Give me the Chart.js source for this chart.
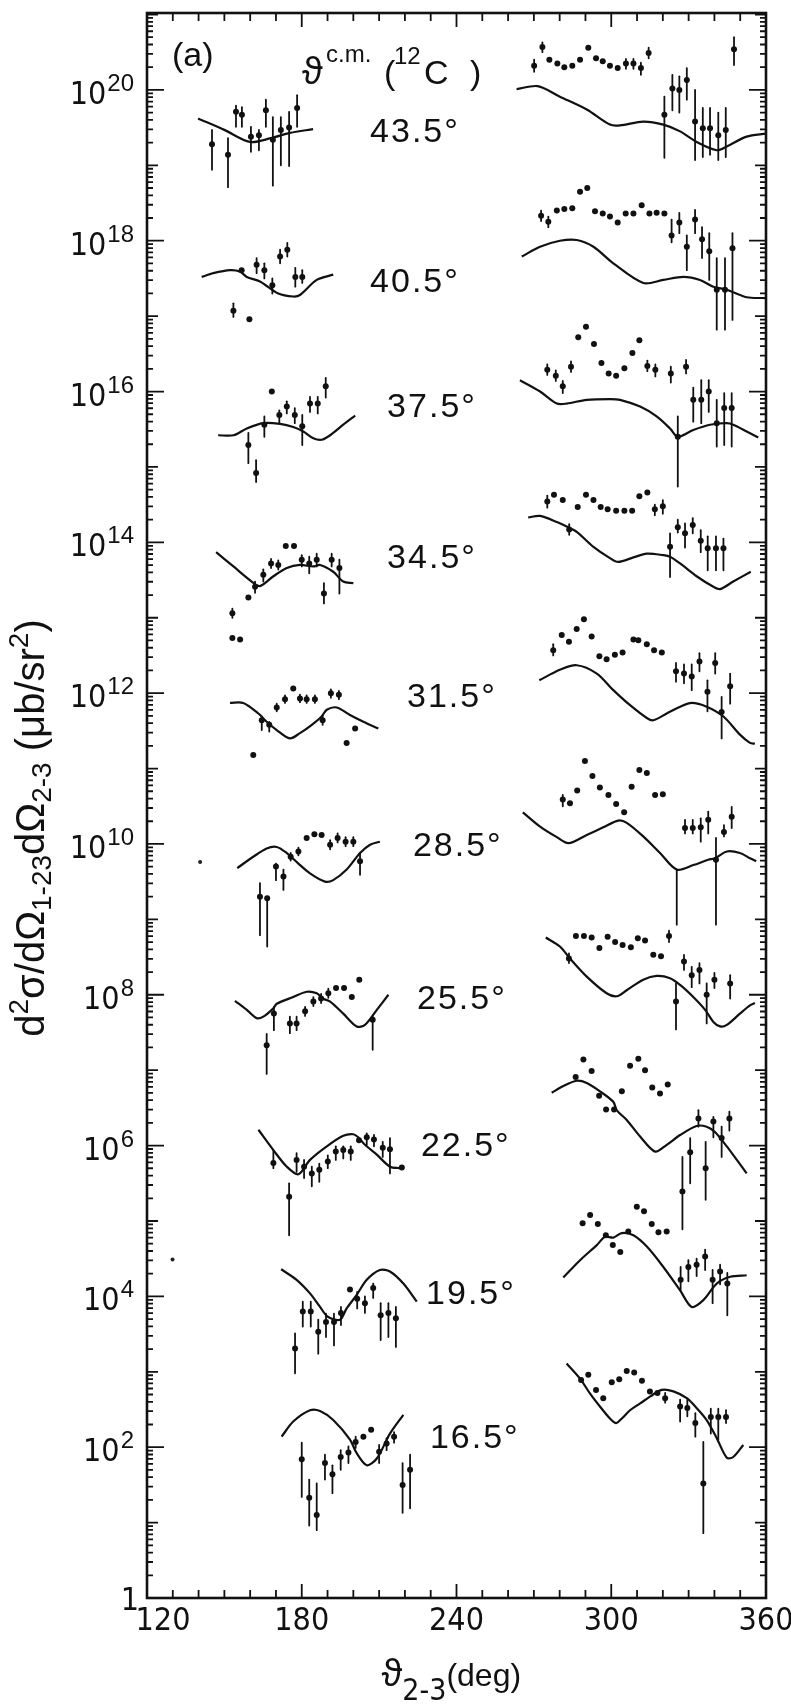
<!DOCTYPE html>
<html>
<head>
	<title>12C angular correlations</title>
	<script src="https://cdn.jsdelivr.net/npm/chart.js@4.4.0/dist/chart.umd.min.js"></script>
	<style>
		body { margin: 0; background: #fff; }
		#wrap { width: 791px; height: 1707px; }
		canvas { background: #fff; }
	</style>
</head>
<body>
	<div id="wrap"><canvas id="chart1" width="791" height="1707"></canvas></div>
	<script type="text/javascript">
		// values are log10 of d2sigma (ub/sr2); x is theta 2-3 in degrees
		// data points: [x, y] or [x, y, errTop, errBottom]
		var th435L = [[139.8,19.62],[150,19.47],[159.9,19.31],[168,19.36],[175.4,19.43],[184.4,19.48]];
		var d435L = [[145.2,19.28,19.47,18.94],[151.4,19.14,19.36,18.71],[154.5,19.71,19.79,19.51],[156.8,19.67,19.77,19.51],[160.3,19.38,19.51,19.18],[163.4,19.40,19.47,19.20],[166.1,19.73,19.87,19.51],[168.8,19.34,19.64,18.73],[171.9,19.47,19.64,19.0],[175.1,19.50,19.71,18.99],[178.2,19.76,19.93,19.51]];
		var th435R = [[263.3,20.01],[271.5,20.05],[280.1,19.91],[290.5,19.74],[299.5,19.54],[303.4,19.53],[312.4,19.58],[320.2,19.54],[326.7,19.45],[333.1,19.31],[340.9,19.20],[344.8,19.25],[352.5,19.38],[360,19.42]];
		var d435R = [[270.1,20.32,20.4,20.24],[273.3,20.57,20.63,20.5],[276.0,20.40],[279.1,20.35],[281.8,20.30],[284.9,20.32],[287.9,20.40],[291.1,20.56],[294.1,20.42],[296.7,20.38],[299.5,20.32],[302.5,20.29],[305.7,20.35,20.41,20.28],[308.6,20.35,20.41,20.28],[311.5,20.29,20.36,20.2],[314.5,20.49,20.56,20.42],[320.6,19.67,19.91,19.10],[323.7,20.02,20.20,19.73],[326.4,20.0,20.18,19.70],[329.3,20.13,20.29,19.87],[332.5,19.58,20.0,19.07],[335.5,19.49,19.76,19.11],[338.3,19.49,19.76,19.14],[341.5,19.40,19.70,19.07],[344.4,19.47,19.76,19.11],[347.6,20.54,20.70,20.33]];

		var th405L = [[141.2,17.52],[145.7,17.57],[152.2,17.61],[156.1,17.59],[158.7,17.52],[163.8,17.46],[170.9,17.30],[176.7,17.26],[179.3,17.28],[185.8,17.48],[192.2,17.55]];
		var d405L = [[153.5,17.07,17.17,16.99],[156.7,17.61],[159.7,16.96],[162.5,17.68,17.77,17.57],[165.5,17.61,17.70,17.50],[168.6,17.41,17.50,17.30],[171.6,17.79,17.88,17.70],[174.4,17.88,17.97,17.79],[177.5,17.52,17.64,17.39],[180.2,17.52,17.61,17.44]];
		var th405R = [[265.3,17.79],[272.4,17.92],[280.1,18.0],[286.6,18.01],[293.1,17.92],[300.8,17.70],[312.4,17.44],[320.2,17.48],[328.0,17.52],[334.4,17.48],[339.6,17.39],[344.8,17.35],[352.5,17.25],[360,17.24]];
		var d405R = [[272.8,18.33,18.4,18.26],[275.6,18.25,18.32,18.18],[278.9,18.40],[281.8,18.42],[284.9,18.43],[287.9,18.65],[290.7,18.70],[293.7,18.39],[296.7,18.36],[299.5,18.32],[302.5,18.24],[305.6,18.36],[308.6,18.36],[311.8,18.47],[314.8,18.36],[317.6,18.37],[320.6,18.36],[323.4,18.07,18.28,17.98],[326.4,18.24,18.37,18.10],[329.3,17.92,18.07,17.61],[332.5,18.28,18.41,18.10],[335.2,18.02,18.18,17.77],[338.0,17.86,18.10,17.48],[340.9,17.35,17.77,16.82],[344.1,17.35,17.77,16.82],[347.0,17.90,18.10,16.95]];

		var th375L = [[147.6,15.42],[153.5,15.42],[158.7,15.51],[165.1,15.58],[171.6,15.57],[176.7,15.53],[180.6,15.47],[184.5,15.38],[187.7,15.36],[191.0,15.42],[196.1,15.56],[200.7,15.68]];
		var d375L = [[159.3,15.29,15.45,15.05],[162.3,14.92,15.09,14.80],[165.5,15.56,15.67,15.40],[168.4,16.0],[171.3,15.69,15.75,15.58],[174.2,15.80,15.87,15.71],[177.3,15.69,15.78,15.58],[180.2,15.54,15.69,15.29],[183.2,15.84,15.93,15.73],[186.2,15.84,15.93,15.71],[189.3,16.07,16.18,15.92]];
		var th375R = [[264.6,16.15],[272.4,16.0],[278.9,15.84],[282.7,15.84],[290.5,15.89],[299.5,15.90],[303.4,15.89],[311.2,15.80],[317.6,15.67],[322.8,15.51],[325.8,15.40],[331.8,15.49],[338.3,15.56],[344.8,15.58],[347.3,15.56],[352.5,15.47],[357.0,15.39]];
		var d375R = [[275.2,16.29,16.36,16.22],[278.5,16.21,16.28,16.14],[281.2,16.07,16.14,15.98],[284.4,16.33,16.4,16.26],[287.2,16.72],[290.2,16.86],[293.3,16.63],[296.2,16.38],[299.0,16.24],[301.9,16.21],[305.1,16.31],[308.2,16.51],[310.9,16.68],[314.0,16.34,16.41,16.27],[317.1,16.29,16.36,16.2],[323.1,16.24,16.33,16.12],[325.8,15.40,15.67,14.74],[329.0,16.33,16.42,16.24],[331.8,15.89,16.05,15.60],[334.9,15.89,16.15,15.58],[337.8,16.0,16.15,15.73],[340.9,15.58,15.89,15.27],[343.8,15.78,15.98,15.29],[346.7,15.78,15.98,15.27]];

		var th345L = [[146.8,13.87],[153.5,13.68],[160.6,13.48],[163.8,13.42],[169.0,13.55],[174.2,13.66],[179.3,13.70],[184.5,13.68],[187.1,13.70],[192.2,13.61],[196.1,13.48],[200.0,13.46]];
		var d345L = [[153.1,13.06,13.12,13.0],[156.1,12.71],[153.1,12.73],[159.3,13.27],[161.9,13.41,13.48,13.33],[165.1,13.57,13.64,13.48],[168.1,13.72,13.78,13.66],[170.9,13.70,13.76,13.64],[173.8,13.95],[177.0,13.95],[180.0,13.77,13.83,13.68],[182.9,13.72,13.81,13.59],[185.8,13.77,13.85,13.68],[188.6,13.32,13.46,13.19],[191.6,13.77,13.85,13.68],[194.6,13.66,13.77,13.32]];
		var th345R = [[267.8,14.33],[272.4,14.35],[278.9,14.27],[282.7,14.21],[286.6,14.14],[293.1,13.94],[299.5,13.79],[302.7,13.74],[308.6,13.80],[313.8,13.85],[320.2,13.83],[322.8,13.81],[326.7,13.72],[333.1,13.55],[339.6,13.41],[342.2,13.38],[347.3,13.48],[354.1,13.61]];
		var d345R = [[275.2,14.54,14.62,14.46],[277.8,14.63],[281.2,14.56],[283.7,14.17,14.24,14.1],[287.0,14.47],[290.2,14.63],[293.1,14.56],[295.9,14.47],[298.6,14.44],[301.9,14.42],[305.1,14.42],[308.1,14.42],[310.9,14.61],[314.0,14.66],[316.9,14.44,14.5,14.36],[320.0,14.48,14.56,14.38],[322.8,13.94,14.12,13.54],[325.8,14.20,14.30,14.13],[328.6,14.12,14.25,13.93],[331.6,14.23,14.32,14.12],[334.7,14.02,14.16,13.87],[337.4,13.92,14.08,13.63],[340.6,13.92,14.08,13.63],[343.5,13.92,14.05,13.63]];

		var th315L = [[152.2,11.87],[157.3,11.87],[163.2,11.73],[166.4,11.62],[170.3,11.51],[175.4,11.40],[179.3,11.47],[183.9,11.58],[187.7,11.69],[189.7,11.78],[193.6,11.81],[198.7,11.71],[203.9,11.62],[209.7,11.53]];
		var d315L = [[161.2,11.18],[164.5,11.64,11.69,11.51],[167.4,11.58,11.62,11.49],[170.3,11.81,11.86,11.76],[173.5,11.92,11.97,11.87],[176.7,12.06],[179.3,11.93,11.98,11.88],[181.9,11.92,11.97,11.87],[185.1,11.92,11.97,11.87],[188.1,11.64,11.71,11.58],[191.3,12.0,12.05,11.94],[194.4,11.98,12.03,11.92],[197.4,11.34],[200.7,11.53]];
		var th315R = [[272.1,12.17],[280.1,12.31],[286.6,12.37],[294.4,12.26],[300.8,12.04],[307.3,11.84],[313.8,11.67],[316.3,11.64],[321.5,11.73],[326.7,11.82],[331.2,11.87],[337.0,11.82],[343.5,11.69],[349.9,11.45],[353.8,11.34],[355.7,11.33]];
		var d315R = [[277.5,12.57,12.65,12.5],[280.8,12.77],[283.6,12.68],[286.6,12.85],[289.4,12.98],[292.4,12.75],[295.4,12.49],[298.2,12.45],[301.4,12.51],[304.4,12.54],[308.6,12.71],[310.5,12.70],[313.8,12.65],[316.6,12.57],[319.6,12.54],[325.1,12.29,12.40,12.15],[328.2,12.26,12.38,12.13],[331.2,12.22,12.38,12.04],[334.2,12.42,12.53,12.29],[337.3,12.02,12.17,11.76],[340.3,12.40,12.53,12.26],[342.8,11.75,11.95,11.40],[346.1,12.09,12.26,11.86]];

		var th285L = [[155.0,9.68],[161.2,9.83],[166.4,9.94],[170.3,9.96],[174.2,9.88],[178.7,9.74],[183.2,9.61],[189.0,9.50],[192.2,9.52],[197.4,9.66],[202.6,9.88],[206.5,9.99],[210.3,10.03]];
		var d285L = [[163.8,9.30,9.48,8.79],[166.6,9.28,9.30,8.64],[170.0,9.70,9.74,9.52],[172.9,9.57,9.66,9.39],[175.7,9.83,9.88,9.78],[178.7,9.90,9.95,9.85],[181.9,10.08],[184.9,10.13],[187.7,10.12],[191.0,9.99,10.05,9.93],[193.9,10.08,10.14,10.02],[197.0,10.03,10.09,9.97],[200.0,10.03,10.09,9.97],[202.6,9.77,9.88,9.59]];
		var th285R = [[265.7,10.42],[272.4,10.23],[278.9,10.09],[283.4,10.01],[290.5,10.12],[296.9,10.22],[302.7,10.31],[306.0,10.28],[312.4,10.10],[318.9,9.88],[325.4,9.66],[331.8,9.72],[337.6,9.79],[340.2,9.81],[344.8,9.90],[349.9,9.88],[353.8,9.81],[356.2,9.77]];
		var d285R = [[281.2,10.59,10.65,10.5],[284.0,10.54],[286.8,10.71],[289.8,11.10],[292.7,10.90],[295.6,10.75],[298.9,10.65],[301.9,10.53],[305.0,10.42],[307.9,10.76],[310.9,10.98],[313.8,10.94],[317.0,10.65],[320.0,10.66],[328.6,10.21,10.32,10.14],[331.6,10.21,10.32,10.14],[334.7,10.22,10.34,10.03],[337.6,10.32,10.43,10.14],[340.6,9.79,10.08,8.93],[343.7,10.16,10.25,10.10],[346.7,10.36,10.49,10.21]];

		var th255L = [[154.1,7.92],[158.7,7.80],[162.5,7.69],[165.1,7.71],[169.0,7.82],[170.3,7.88],[176.7,7.97],[181.9,8.04],[185.8,8.02],[188.1,7.95],[191.0,7.91],[196.1,7.75],[201.3,7.58],[204.5,7.60],[209.1,7.80],[213.6,8.0]];
		var d255L = [[166.4,7.33,7.48,6.95],[169.2,7.75,7.84,7.53],[175.4,7.62,7.71,7.49],[178.0,7.62,7.71,7.53],[181.3,7.78,7.84,7.72],[184.5,7.91,7.97,7.85],[187.5,7.95,8.01,7.89],[190.3,8.02,8.08,7.96],[193.3,8.09],[196.4,8.09],[199.4,7.97],[202.3,8.20],[207.5,7.67,7.71,7.27]];
		var th255R = [[274.6,8.76],[280.1,8.64],[284.0,8.48],[290.5,8.24],[298.2,8.02],[302.1,7.98],[306.0,8.06],[312.4,8.20],[317.6,8.25],[322.8,8.22],[326.7,8.13],[331.8,7.97],[336.4,7.80],[339.6,7.64],[342.2,7.58],[344.8,7.60],[349.9,7.75],[353.8,7.86],[355.7,7.89]];
		var d255R = [[283.6,8.48,8.55,8.42],[286.3,8.78],[289.4,8.78],[292.4,8.76],[295.4,8.62],[298.6,8.77],[301.5,8.70],[304.4,8.66],[307.6,8.63],[310.3,8.75],[313.1,8.72],[316.3,8.53],[319.3,8.51],[322.4,8.78,8.85,8.70],[325.1,7.91,8.15,7.54],[328.2,8.44,8.53,8.33],[331.2,8.26,8.37,8.10],[334.2,8.33,8.42,8.15],[337.0,8.0,8.15,7.62],[340.0,8.20,8.29,8.09],[346.1,8.15,8.26,7.95]];

		var th225L = [[163.2,6.21],[169.0,5.94],[174.2,5.72],[178.7,5.62],[183.2,5.81],[189.7,5.99],[196.1,6.13],[200.0,6.15],[201.9,6.11],[204.5,6.01],[209.1,5.88],[214.2,5.72],[218.1,5.70]];
		var d225L = [[169.0,5.77,5.94,5.70],[175.1,5.32,5.50,4.81],[178.0,5.81,5.90,5.65],[180.9,5.72,5.81,5.57],[183.9,5.63,5.72,5.46],[186.8,5.68,5.76,5.52],[190.1,5.79,5.87,5.70],[193.2,5.92,5.99,5.81],[196.1,5.94,5.99,5.83],[199.0,5.92,5.99,5.81],[202.2,6.07],[205.2,6.11,6.16,6.01],[208.0,6.08,6.14,5.99],[211.4,5.97,6.05,5.85],[214.2,5.95,6.10,5.63],[218.8,5.71]];
		var th225R = [[276.9,6.70],[281.4,6.79],[286.6,6.86],[290.5,6.83],[295.6,6.72],[300.8,6.58],[302.1,6.47],[306.0,6.34],[311.2,6.12],[317.0,5.92],[321.5,6.01],[326.7,6.14],[333.1,6.26],[337.0,6.25],[340.2,6.18],[344.8,5.99],[348.7,5.81],[352.5,5.63]];
		var d225R = [[286.2,6.91],[289.2,7.14],[292.4,6.99],[295.3,6.66],[298.0,6.48],[301.1,6.48],[304.1,6.72],[307.3,7.06],[310.5,7.15],[313.1,7.0],[315.9,6.77],[318.9,6.69],[321.9,6.81],[327.6,5.39,5.85,4.89],[330.6,5.91,6.10,5.50],[333.8,6.36,6.47,6.25],[336.6,5.70,6.05,5.28],[339.6,6.32,6.38,6.11],[342.8,6.10,6.25,5.85],[345.8,6.36,6.45,6.20]];

		var th195L = [[172.0,4.36],[178.0,4.22],[183.2,4.04],[187.1,3.86],[190.1,3.73],[194.8,3.69],[197.4,3.84],[201.3,4.02],[205.2,4.22],[210.3,4.35],[214.2,4.33],[219.4,4.17],[224.6,3.93]];
		var d195L = [[177.4,3.31,3.51,2.98],[180.4,3.80,3.93,3.60],[183.5,3.80,3.93,3.60],[186.4,3.53,3.69,3.24],[189.4,3.66,3.77,3.46],[192.5,3.66,3.77,3.35],[195.2,3.78,3.86,3.62],[198.7,4.09],[201.5,3.97,4.06,3.84],[204.5,3.91,4.0,3.78],[207.7,4.11,4.17,3.98],[210.6,3.75,3.91,3.42],[213.6,3.78,3.91,3.46],[216.5,3.71,3.86,3.33]];
		var th195R = [[281.4,4.25],[287.9,4.48],[294.4,4.68],[297.6,4.79],[300.8,4.78],[304.1,4.84],[308.6,4.81],[313.8,4.66],[320.2,4.39],[326.7,4.08],[331.2,3.86],[335.7,3.95],[340.9,4.17],[346.1,4.26],[352.5,4.28]];
		var d195R = [[288.9,4.97],[291.8,5.08],[294.8,4.96],[297.9,4.81],[300.6,4.68],[303.5,4.59],[306.6,4.86],[309.9,5.19],[312.7,5.13],[315.7,4.96],[318.3,4.85],[321.5,4.86],[326.9,4.22,4.39,4.08],[329.9,4.39,4.48,4.20],[333.1,4.42,4.50,4.27],[336.4,4.53,4.62,4.35],[339.3,4.22,4.35,3.91],[342.2,4.33,4.42,4.16],[345.0,4.17,4.31,3.75]];

		var th165L = [[172.2,2.14],[176.7,2.34],[183.2,2.49],[187.1,2.48],[192.2,2.36],[198.7,2.10],[201.3,1.92],[205.2,1.76],[209.1,1.85],[214.2,2.18],[219.4,2.43]];
		var d165L = [[180.0,1.84,2.06,1.34],[182.9,1.33,1.57,0.96],[185.8,1.10,1.52,0.90],[189.0,1.79,1.90,1.57],[191.9,1.64,1.76,1.39],[195.1,1.87,1.96,1.70],[198.1,1.93,2.01,1.79],[200.9,2.07,2.14,1.99],[203.9,2.14],[206.9,2.23],[210.0,1.94,2.03,1.79],[212.9,2.05,2.12,1.96],[215.8,2.14,2.20,2.06],[219.1,1.50,1.79,1.13],[222.0,1.70,1.90,1.19]];
		var th165R = [[282.7,3.11],[287.9,2.91],[291.8,2.71],[295.6,2.54],[299.5,2.38],[301.9,2.32],[304.1,2.38],[307.3,2.49],[311.2,2.58],[315.0,2.67],[319.6,2.76],[324.1,2.74],[329.3,2.65],[333.1,2.52],[337.0,2.36],[340.9,2.12],[344.8,1.86],[347.3,1.87],[351.2,2.03]];
		var d165R = [[288.3,2.89],[291.1,2.96],[294.1,2.76],[296.9,2.65],[300.2,2.86],[303.1,2.90],[306.0,3.01],[308.9,2.99],[311.9,2.88],[315.0,2.74],[317.9,2.72],[320.9,2.65,2.72,2.59],[326.7,2.54,2.63,2.34],[329.5,2.52,2.63,2.41],[332.6,2.32,2.45,2.14],[335.7,1.52,2.07,0.86],[338.6,2.40,2.51,2.18],[341.5,2.40,2.51,2.10],[344.5,2.40,2.49,2.32]];

		// cusp line of the 28.5 deg curve, [x, top, bottom]
		var spikes = [[325.4,9.66,8.93]];
		var strays = [[129.9,4.49],[140.6,9.76]];

		var angleLabels = ['43.5°','40.5°','37.5°','34.5°','31.5°','28.5°','25.5°','22.5°','19.5°','16.5°'];
		var labelX = [206.5,206.5,213.1,213.1,220.8,223.1,224.7,226.2,228.2,229.7];
		var labelY = [19.43,17.45,15.78,13.78,11.94,9.96,7.93,5.99,4.02,2.12];
		var xTickLabels = [120,180,240,300,360];
		var yTickPowers = [2,4,6,8,10,12,14,16,18,20];

		var theory = [th435L,th435R,th405L,th405R,th375L,th375R,th345L,th345R,th315L,th315R,th285L,th285R,th255L,th255R,th225L,th225R,th195L,th195R,th165L,th165R];
		var points = [d435L,d435R,d405L,d405R,d375L,d375R,d345L,d345R,d315L,d315R,d285L,d285R,d255L,d255R,d225L,d225R,d195L,d195R,d165L,d165R];

		function xy(arr){
			return arr.map(function(p){ return {x: p[0], y: p[1]}; });
		}

		var datasets = [];
		theory.forEach(function(t){
			datasets.push({
				data: xy(t),
				showLine: true,
				borderColor: '#111',
				borderWidth: 2.2,
				tension: 0.3,
				pointRadius: 0,
				fill: false
			});
		});
		points.forEach(function(d){
			datasets.push({
				data: xy(d),
				showLine: false,
				pointRadius: 3,
				pointBorderWidth: 0,
				backgroundColor: '#111'
			});
		});
		datasets.push({ data: xy(strays), showLine: false, pointRadius: 2, pointBorderWidth: 0, backgroundColor: '#222' });

		var NARROW = '"Liberation Sans Narrow", "DejaVu Sans Condensed", sans-serif';
		var SANS = '"Liberation Sans", "DejaVu Sans", sans-serif';

		function rich(ctx, parts, x, y, align){
			var total = 0;
			parts.forEach(function(p){ ctx.font = p[1]; total += ctx.measureText(p[0]).width; });
			var cx = align == 'center' ? x - total / 2 : (align == 'right' ? x - total : x);
			ctx.textAlign = 'left';
			parts.forEach(function(p){
				ctx.font = p[1];
				ctx.fillText(p[0], cx, y + (p[2] || 0));
				cx += ctx.measureText(p[0]).width;
			});
		}

		var decor = {
			id: 'decor',
			afterDatasetsDraw: function(chart){
				var ctx = chart.ctx, a = chart.chartArea;
				var xs = chart.scales.x, ys = chart.scales.y;
				ctx.save();
				ctx.strokeStyle = '#111';
				ctx.fillStyle = '#111';
				ctx.lineCap = 'round';

				// error bars
				ctx.lineWidth = 1.8;
				points.forEach(function(d){
					d.forEach(function(p){
						if (p.length < 4) return;
						var px = xs.getPixelForValue(p[0]);
						ctx.beginPath();
						ctx.moveTo(px, ys.getPixelForValue(p[2]));
						ctx.lineTo(px, ys.getPixelForValue(p[3]));
						ctx.stroke();
					});
				});
				spikes.forEach(function(s){
					var px = xs.getPixelForValue(s[0]);
					ctx.beginPath();
					ctx.moveTo(px, ys.getPixelForValue(s[1]));
					ctx.lineTo(px, ys.getPixelForValue(s[2]));
					ctx.stroke();
				});

				// frame
				ctx.lineCap = 'butt';
				ctx.lineWidth = 2.6;
				ctx.strokeRect(a.left, a.top, a.right - a.left, a.bottom - a.top);

				// y ticks, both sides, log minor ticks
				ctx.lineWidth = 1.8;
				for (var n = 0; n <= 21; n++) {
					for (var k = 1; k <= 9; k++) {
						var v = n + Math.log10(k);
						if (v > ys.max || (n == 0 && k == 1)) continue;
						var py = ys.getPixelForValue(v);
						var len = k == 1 ? (n % 2 == 0 ? 17 : 11) : 6;
						ctx.beginPath();
						ctx.moveTo(a.left, py); ctx.lineTo(a.left + len, py);
						ctx.moveTo(a.right, py); ctx.lineTo(a.right - len, py);
						ctx.stroke();
					}
				}
				// x ticks, top and bottom
				for (var d = 130; d < 360; d += 10) {
					var px = xs.getPixelForValue(d);
					var l = d % 60 == 0 ? 14 : 8;
					ctx.beginPath();
					ctx.moveTo(px, a.bottom); ctx.lineTo(px, a.bottom - l);
					ctx.moveTo(px, a.top); ctx.lineTo(px, a.top + l);
					ctx.stroke();
				}

				// y tick labels
				ctx.textBaseline = 'alphabetic';
				yTickPowers.forEach(function(p){
					var py = ys.getPixelForValue(p);
					ctx.font = '24px ' + SANS;
					var sw = ctx.measureText(String(p)).width;
					var sx = a.left - 13 - sw;
					ctx.textAlign = 'left';
					ctx.fillText(String(p), sx, py + 1);
					ctx.font = '32px ' + NARROW;
					ctx.textAlign = 'right';
					ctx.fillText('10', sx - 1, py + 14);
				});
				ctx.font = '32px ' + NARROW;
				ctx.textAlign = 'right';
				ctx.fillText('1', a.left - 8, ys.getPixelForValue(0) + 12);

				// x tick labels
				ctx.textAlign = 'center';
				ctx.textBaseline = 'top';
				xTickLabels.forEach(function(v){
					var px = xs.getPixelForValue(v);
					if (v == 120) px += 16;
					ctx.fillText(String(v), px, a.bottom + 8);
				});

				// axis titles
				ctx.textBaseline = 'alphabetic';
				rich(ctx, [['\u03D1', '38px ' + SANS], ['2-3', '30px ' + NARROW, 14], ['(deg)', '32px ' + SANS]], xs.getPixelForValue(238), 1686, 'center');
				ctx.save();
				ctx.translate(44, 828);
				ctx.rotate(-Math.PI / 2);
				var big = '40px ' + SANS, small = '28px ' + SANS;
				rich(ctx, [['d', big], ['2', small, -16], ['\u03C3/d\u03A9', big], ['1-23', small, 7], ['d\u03A9', big], ['2-3', small, 7], [' (\u03BCb/sr', big], ['2', small, -16], [')', big]], 0, 0, 'center');
				ctx.restore();

				// panel angles
				ctx.font = '34px ' + SANS;
				ctx.textAlign = 'left';
				ctx.textBaseline = 'middle';
				ctx.letterSpacing = '2px';
				angleLabels.forEach(function(t, i){
					ctx.fillText(t, xs.getPixelForValue(labelX[i]), ys.getPixelForValue(labelY[i]));
				});
				ctx.letterSpacing = '0px';

				// header
				ctx.textBaseline = 'alphabetic';
				ctx.font = '34px ' + SANS;
				ctx.fillText('(a)', 172, 66);
				ctx.font = '38px ' + SANS;
				ctx.fillText('\u03D1', 302, 84);
				ctx.font = '24px ' + SANS;
				ctx.fillText('c.m.', 326, 62);
				ctx.font = '34px ' + SANS;
				ctx.fillText('(', 384, 84);
				ctx.font = '24px ' + SANS;
				ctx.fillText('12', 394, 64);
				ctx.font = '34px ' + SANS;
				ctx.fillText('C', 424, 84);
				ctx.fillText(')', 470, 84);
				ctx.restore();
			}
		};

		var ctx1 = document.getElementById('chart1');
		var chart1 = new Chart(ctx1, {
			type: 'scatter',
			data: { datasets: datasets },
			options: {
				responsive: false,
				animation: false,
				devicePixelRatio: 1,
				layout: { padding: { left: 147, right: 25, top: 13, bottom: 109 } },
				plugins: { legend: { display: false }, tooltip: { enabled: false } },
				scales: {
					x: { type: 'linear', min: 120, max: 360, display: false },
					y: { type: 'linear', min: 0, max: 21.02, display: false }
				}
			},
			plugins: [decor]
		});
	</script>
</body>
</html>
